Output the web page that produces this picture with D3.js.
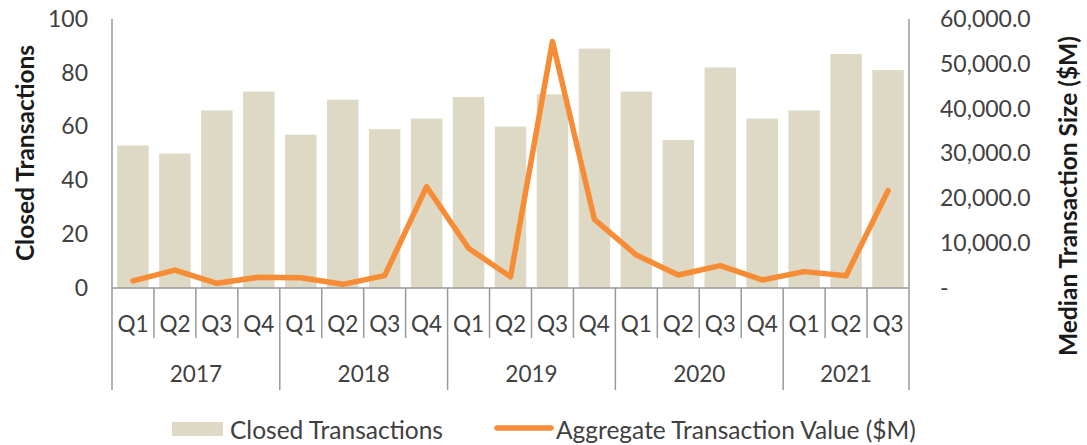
<!DOCTYPE html>
<html>
<head>
<meta charset="utf-8">
<script src="https://cdn.jsdelivr.net/npm/d3@7"></script>
<style>
  html, body { margin: 0; padding: 0; background: #fff; }
  svg { display: block; }
  text { font-family: Lato, "Open Sans", sans-serif; fill: #404040; }
</style>
</head>
<body>
<div id="chart"></div>
<script>
// ---- Data ----
const years = ["2017", "2018", "2019", "2020", "2021"];
const quarters = ["Q1","Q2","Q3","Q4","Q1","Q2","Q3","Q4","Q1","Q2","Q3","Q4","Q1","Q2","Q3","Q4","Q1","Q2","Q3"];
const quarterYears = ["2017","2017","2017","2017","2018","2018","2018","2018","2019","2019","2019","2019","2020","2020","2020","2020","2021","2021","2021"];
const closedTransactions = [53, 50, 66, 73, 57, 70, 59, 63, 71, 60, 72, 89, 73, 55, 82, 63, 66, 87, 81];
const aggregateValue = [1600, 4000, 1050, 2400, 2300, 820, 2750, 22600, 8850, 2500, 55000, 15300, 7350, 2900, 5000, 1800, 3650, 2750, 21700];
const leftTicks = [0, 20, 40, 60, 80, 100];
const rightTicks = [0, 10000, 20000, 30000, 40000, 50000, 60000];
const seriesNames = ["Closed Transactions", "Aggregate Transaction Value ($M)"];
const leftTitle = "Closed Transactions";
const rightTitle = "Median Transaction Size ($M)";

// ---- Layout ----
const W = 1087, H = 445;
const plot = { left: 112, right: 909, top: 19, bottom: 288 };
const barColor = "#DDD9C4";
const lineColor = "#F68D36";
const axisColor = "#999999";
const tickSize = 23;
const catSize = 22.5;
const legendSize = 24.5;
const titleSize = 24.5;

const svg = d3.select("#chart").append("svg").attr("width", W).attr("height", H);

const keys = quarters.map((q, i) => i);
const x = d3.scaleBand().domain(keys).range([plot.left, plot.right]).paddingInner(0.25).paddingOuter(0.125);
const step = x.step();
const yL = d3.scaleLinear().domain([0, 100]).range([plot.bottom, plot.top]);
const yR = d3.scaleLinear().domain([0, 60000]).range([plot.bottom, plot.top]);

// Bars
svg.append("g").selectAll("rect").data(closedTransactions).join("rect")
  .attr("x", (d, i) => x(i))
  .attr("y", d => yL(d))
  .attr("width", x.bandwidth())
  .attr("height", d => yL(0) - yL(d))
  .attr("fill", barColor);

// Left axis
const leftAxis = d3.axisLeft(yL).tickValues(leftTicks).tickSize(0).tickPadding(24).tickFormat(d3.format("d"));
const gL = svg.append("g").attr("transform", `translate(${plot.left},0)`).call(leftAxis);
gL.select(".domain").remove();
gL.selectAll("text").attr("font-size", tickSize).style("font-family", "Lato").attr("fill", "#404040");

// Right axis
const fmtR = d => d === 0 ? "-" : d3.format(",.1f")(d);
const rightAxis = d3.axisRight(yR).tickValues(rightTicks).tickSize(0).tickPadding(31).tickFormat(fmtR);
const gR = svg.append("g").attr("transform", `translate(${plot.right},0)`).call(rightAxis);
gR.select(".domain").remove();
gR.selectAll("text").attr("font-size", tickSize).style("font-family", "Lato").attr("fill", "#404040");

// Axis lines
const lines = svg.append("g").attr("stroke", axisColor).attr("stroke-width", 1.5).attr("fill", "none");
lines.append("line").attr("x1", plot.left).attr("x2", plot.left).attr("y1", plot.top).attr("y2", 390);
lines.append("line").attr("x1", plot.right).attr("x2", plot.right).attr("y1", plot.top).attr("y2", 390);
lines.append("line").attr("x1", plot.left).attr("x2", plot.right).attr("y1", plot.bottom).attr("y2", plot.bottom);

// Quarter separators & year separators
keys.forEach((k, i) => {
  if (i === 0) return;
  const xs = x(i) - (step - x.bandwidth()) / 2;
  const isYear = quarterYears[i] !== quarterYears[i - 1];
  lines.append("line").attr("x1", xs).attr("x2", xs).attr("y1", plot.bottom).attr("y2", isYear ? 390 : 338);
});

// Quarter labels
svg.append("g").selectAll("text").data(quarters).join("text")
  .attr("x", (d, i) => x(i) + x.bandwidth() / 2)
  .attr("y", 323)
  .attr("text-anchor", "middle")
  .attr("dominant-baseline", "central")
  .attr("font-size", catSize)
  .text(d => d);

// Year labels
svg.append("g").selectAll("text").data(years).join("text")
  .attr("x", yr => {
    const idx = quarterYears.map((q, i) => q === yr ? i : -1).filter(i => i >= 0);
    const x0 = x(idx[0]) - (step - x.bandwidth()) / 2;
    const x1 = x(idx[idx.length - 1]) + x.bandwidth() + (step - x.bandwidth()) / 2;
    return (x0 + x1) / 2;
  })
  .attr("y", 373)
  .attr("text-anchor", "middle")
  .attr("dominant-baseline", "central")
  .attr("font-size", catSize)
  .text(d => d);

// Line
const line = d3.line().x((d, i) => x(i) + x.bandwidth() / 2).y(d => yR(d));
svg.append("path").datum(aggregateValue)
  .attr("d", line)
  .attr("fill", "none")
  .attr("stroke", lineColor)
  .attr("stroke-width", 5.5)
  .attr("stroke-linejoin", "round")
  .attr("stroke-linecap", "round");

// Axis titles
svg.append("text")
  .attr("transform", `translate(24,153) rotate(-90)`)
  .attr("text-anchor", "middle").attr("dominant-baseline", "central")
  .attr("font-size", titleSize).attr("font-weight", "bold").style("fill", "#1a1a1a")
  .text(leftTitle);
svg.append("text")
  .attr("transform", `translate(1067,196) rotate(-90)`)
  .attr("text-anchor", "middle").attr("dominant-baseline", "central")
  .attr("font-size", titleSize).attr("font-weight", "bold").style("fill", "#1a1a1a")
  .text(rightTitle);

// Legend
const lg = svg.append("g");
lg.append("rect").attr("x", 172).attr("y", 422).attr("width", 51).attr("height", 14).attr("fill", barColor);
lg.append("text").attr("x", 230).attr("y", 429).attr("dominant-baseline", "central").attr("font-size", legendSize).text(seriesNames[0]);
lg.append("line").attr("x1", 497).attr("x2", 551).attr("y1", 428).attr("y2", 428)
  .attr("stroke", lineColor).attr("stroke-width", 5.5).attr("stroke-linecap", "round");
lg.append("text").attr("x", 556).attr("y", 429).attr("dominant-baseline", "central").attr("font-size", legendSize).text(seriesNames[1]);
</script>
</body>
</html>
